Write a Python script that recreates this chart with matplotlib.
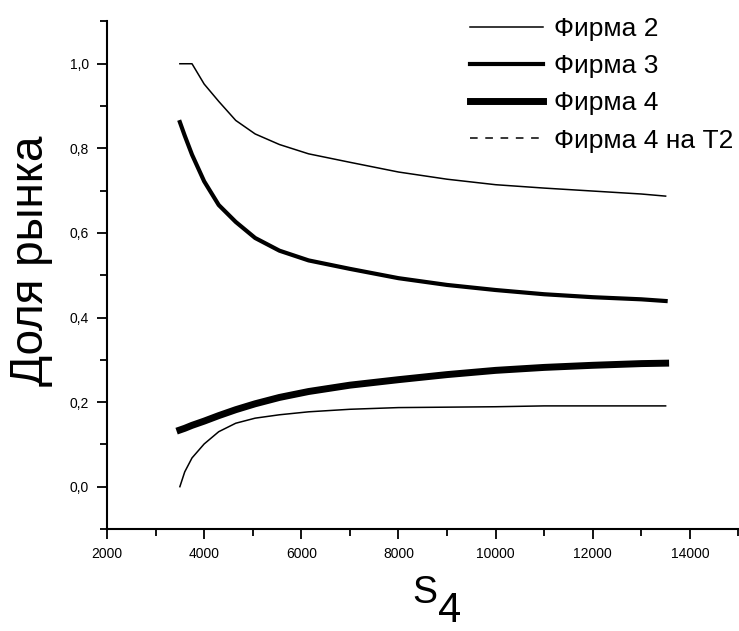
import matplotlib
matplotlib.use("Agg")
import matplotlib.pyplot as plt
from matplotlib.ticker import MultipleLocator, FuncFormatter

plt.rcParams['font.family'] = ['Liberation Sans', 'DejaVu Sans']

# S4 values
s4 = [3500, 3600, 3750, 4000, 4300, 4650, 5050, 5550, 6150, 7000, 8000,
      9000, 10000, 11000, 12000, 13000, 13500]

# market shares
firm2 = [1.0, 1.0, 1.0, 0.952, 0.911, 0.866, 0.834, 0.809, 0.787, 0.767, 0.744,
         0.727, 0.714, 0.706, 0.699, 0.692, 0.687]
firm3 = [0.862, 0.83, 0.785, 0.722, 0.666, 0.626, 0.588, 0.558, 0.535, 0.515, 0.493,
         0.477, 0.465, 0.455, 0.448, 0.443, 0.439]
firm4 = [0.134, 0.138, 0.145, 0.155, 0.168, 0.182, 0.196, 0.211, 0.225, 0.24, 0.253,
         0.265, 0.275, 0.282, 0.287, 0.291, 0.292]
firm_low = [0.0, 0.035, 0.068, 0.101, 0.13, 0.15, 0.162, 0.17, 0.177, 0.183, 0.187,
            0.188, 0.189, 0.191, 0.191, 0.191, 0.191]

labels = ['Фирма 2', 'Фирма 3', 'Фирма 4', 'Фирма 4 на Т2']

fig = plt.figure(figsize=(7.39, 6.31), dpi=100)
ax = fig.add_axes([0.1448, 0.1617, 0.8545, 0.8043])

ax.plot(s4, firm2, color='black', lw=1.1, label=labels[0])
ax.plot(s4, firm3, color='black', lw=3.0, label=labels[1])
ax.plot(s4, firm4, color='black', lw=5.0, label=labels[2])
ax.plot(s4, firm_low, color='black', lw=1.1)
ax.plot([], [], color='black', lw=1.1, ls=(0, (5, 5)), label=labels[3])

ax.set_xlim(2000, 15000)
ax.set_ylim(-0.1, 1.1)

ax.spines['top'].set_visible(False)
ax.spines['right'].set_visible(False)
for sp in ax.spines.values():
    sp.set_linewidth(1.5)

ax.xaxis.set_major_locator(MultipleLocator(2000))
ax.xaxis.set_minor_locator(MultipleLocator(1000))
ax.set_yticks([0, 0.2, 0.4, 0.6, 0.8, 1.0])
ax.yaxis.set_minor_locator(MultipleLocator(0.1))
ax.yaxis.set_major_formatter(FuncFormatter(lambda v, p: f"{v:.1f}".replace('.', ',').replace('-0,0', '0,0')))
ax.tick_params(which='major', direction='out', length=7, width=1.3, labelsize=10, pad=6)
ax.tick_params(which='minor', direction='out', length=5, width=1.3)

ax.set_ylabel('Доля рынка', fontsize=33)
ax.yaxis.set_label_coords(-0.085, 0.528)

# x label S with a big subscript 4
fig.text(0.575, 0.045, 'S', fontsize=27, ha='center', va='baseline')
fig.text(0.609, 0.014, '4', fontsize=30, ha='center', va='baseline')

fig.legend(loc='upper left', bbox_to_anchor=(0.636, 0.973), frameon=False,
           fontsize=19, handlelength=2.75, handletextpad=0.45, labelspacing=0.5,
           borderpad=0, borderaxespad=0)

fig.savefig('out.png', dpi=100)
